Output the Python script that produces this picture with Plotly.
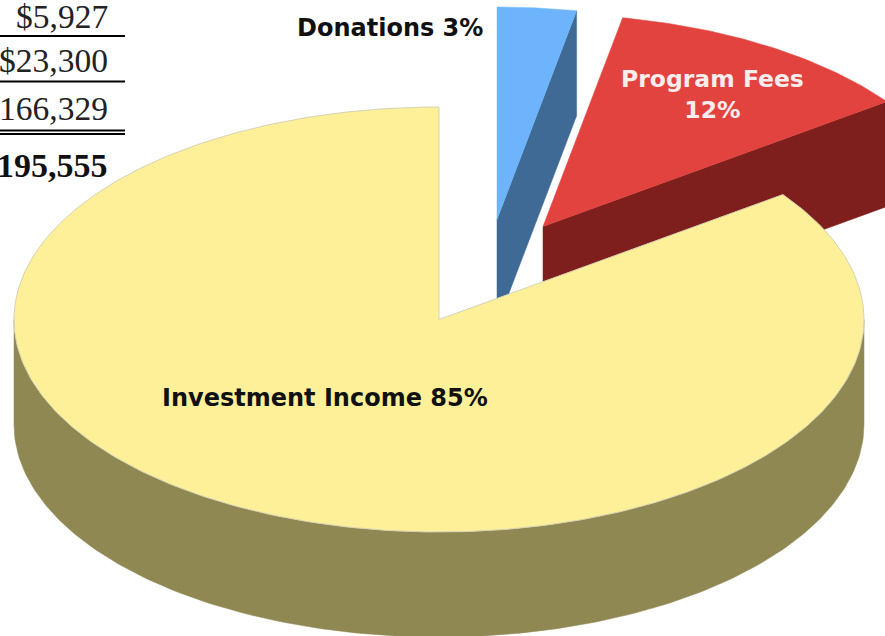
import numpy as np
import plotly.graph_objects as go

# --- data ---
slice_labels = ["Donations", "Program Fees", "Investment Income"]
slice_shares = [3, 12, 85]
table_values = ["$5,927", "$23,300", "166,329"]
table_total = "195,555"

# --- geometry / style ---
W, H = 885, 636
CX, CY, RX, RY, DEPTH = 439, 319.5, 425, 212.5, 105
offsets = {"Donations": (58, -100), "Program Fees": (104, -93), "Investment Income": (0, 0)}
top_col = {"Donations": "#6DB4FC", "Program Fees": "#E3433F", "Investment Income": "#FDF098"}
side_col = {"Donations": "#3F6A96", "Program Fees": "#7F1F1D", "Investment Income": "#8F8853"}


def pt(frac, cx, cy):
    a = 2 * np.pi * np.asarray(frac)
    return cx + RX * np.sin(a), cy - RY * np.cos(a)


def add_poly(fig, x, y, color, line=None):
    fig.add_trace(go.Scatter(
        x=np.append(x, x[0]), y=np.append(y, y[0]), mode="lines", fill="toself",
        fillcolor=color, line=dict(color=line or color, width=1 if line else 0.5),
        hoverinfo="skip", showlegend=False))


fig = go.Figure()

# slice spans run clockwise from twelve o'clock
total = sum(slice_shares)
spans = {}
start = 0.0
for name, share in zip(slice_labels, slice_shares):
    spans[name] = (start, start + share / total)
    start += share / total

# exploded slices: cut face first, then top
for name in ["Program Fees", "Donations"]:
    s, e = spans[name]
    dx, dy = offsets[name]
    ax, ay = CX + dx, CY + dy
    ex, ey = pt(e, ax, ay)
    add_poly(fig, np.array([ax, ex, ex, ax]), np.array([ay, ey, ey + DEPTH, ay + DEPTH]), side_col[name])
    t = np.linspace(s, e, 60)
    px, py = pt(t, ax, ay)
    add_poly(fig, np.concatenate([[ax], px]), np.concatenate([[ay], py]), top_col[name])

# main slice: rim, then top
name = "Investment Income"
s, e = spans[name]
t = np.linspace(0.25, 0.75, 200)
px, py = pt(t, CX, CY)
add_poly(fig, np.concatenate([px, px[::-1]]), np.concatenate([py, py[::-1] + DEPTH]), side_col[name])
t = np.linspace(s, e, 400)
px, py = pt(t, CX, CY)
add_poly(fig, np.concatenate([[CX], px]), np.concatenate([[CY], py]), top_col[name], line="#D6D2B4")

# table rules
for y, x1 in [(36, 125), (81.5, 125), (130.5, 125), (134, 125)]:
    fig.add_trace(go.Scatter(x=[0, x1], y=[y, y], mode="lines", line=dict(color="#000000", width=2),
                             hoverinfo="skip", showlegend=False))

serif = "Liberation Serif"
ann = []
for v, y in zip(table_values, [16, 60, 108]):
    ann.append(dict(x=110, y=y, text=v, xanchor="right", yanchor="middle", showarrow=False,
                    font=dict(family=serif, size=33.5, color="#222222")))
ann.append(dict(x=110, y=165, text="<b>%s</b>" % table_total, xanchor="right", yanchor="middle", showarrow=False,
                font=dict(family=serif, size=34, color="#111111")))
sans = "DejaVu Sans"
ann.append(dict(x=390, y=27.5, text="<b>Donations %d%%</b>" % slice_shares[0], showarrow=False,
                font=dict(family=sans, size=24, color="#111111")))
ann.append(dict(x=712, y=94, text="<b>Program Fees<br>%d%%</b>" % slice_shares[1], showarrow=False,
                font=dict(family=sans, size=23.5, color="#FBEDED")))
ann.append(dict(x=325, y=398, text="<b>Investment Income %d%%</b>" % slice_shares[2], showarrow=False,
                font=dict(family=sans, size=24, color="#111111")))

fig.update_layout(
    width=W, height=H, margin=dict(l=0, r=0, t=0, b=0), autosize=False,
    paper_bgcolor="white", plot_bgcolor="white", showlegend=False, annotations=ann,
    xaxis=dict(range=[0, W], visible=False, fixedrange=True),
    yaxis=dict(range=[H, 0], visible=False, fixedrange=True),
)
fig.write_html("out.html", config={"displayModeBar": False},
               post_script="document.body.style.margin='0';document.documentElement.style.overflow='hidden';")
